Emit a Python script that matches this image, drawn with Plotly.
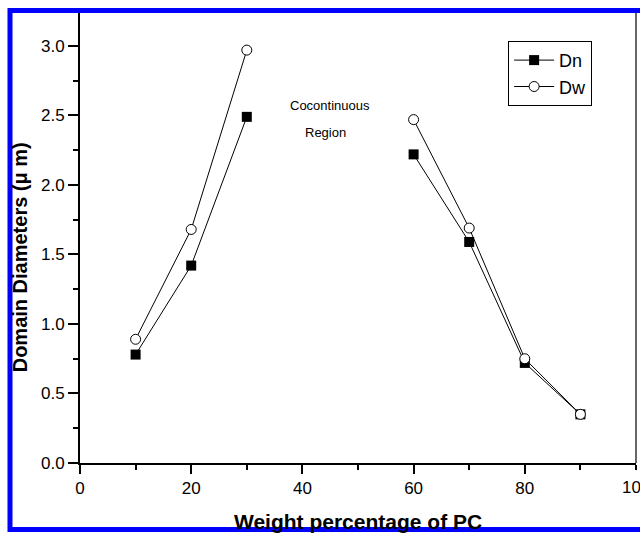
import plotly.graph_objects as go

# Weight percentage of PC; None splits the two branches around the cocontinuous region
pc_wt = [10, 20, 30, None, 60, 70, 80, 90]
dn = [0.78, 1.42, 2.49, None, 2.22, 1.59, 0.72, 0.35]
dw = [0.89, 1.68, 2.97, None, 2.47, 1.69, 0.75, 0.35]

x_ticks = [0, 20, 40, 60, 80, 100]
y_ticks = [0.0, 0.5, 1.0, 1.5, 2.0, 2.5, 3.0]

FONT = "Liberation Sans, Arial, sans-serif"

fig = go.Figure()
fig.add_trace(go.Scatter(
    x=pc_wt, y=dn, name="Dn", mode="lines+markers",
    line=dict(color="black", width=1),
    marker=dict(symbol="square", size=10, color="black"),
    connectgaps=False,
))
fig.add_trace(go.Scatter(
    x=pc_wt, y=dw, name="Dw", mode="lines+markers",
    line=dict(color="black", width=1),
    marker=dict(symbol="circle", size=10, color="white",
                line=dict(color="black", width=1)),
    connectgaps=False,
))

axis_common = dict(
    showgrid=False, zeroline=False, showline=True, linecolor="black",
    linewidth=2, ticks="outside", tickcolor="black", tickwidth=2,
    mirror=False, tickfont=dict(family=FONT, size=17, color="black"),
)

fig.update_xaxes(
    range=[0, 100], tickvals=x_ticks[:-1], ticklen=9,
    minor=dict(dtick=10, ticklen=5, tickwidth=2, tickcolor="black", ticks="outside"),
    **axis_common,
)
fig.update_yaxes(
    range=[0, 3.237], tickvals=y_ticks, ticktext=[f"{v:.1f}" for v in y_ticks],
    ticklen=10,
    minor=dict(dtick=0.25, ticklen=5, tickwidth=2, tickcolor="black", ticks="outside"),
    **axis_common,
)

annotations = [
    dict(text="Cocontinuous", x=45, y=2.575, xref="x", yref="y", showarrow=False,
         font=dict(family=FONT, size=13, color="black")),
    dict(text="Region", x=44.2, y=2.374, xref="x", yref="y", showarrow=False,
         font=dict(family=FONT, size=13, color="black")),
    # last x tick label sits on the page edge
    dict(text=str(x_ticks[-1]), x=x_ticks[-1], y=-0.0555, xref="x", yref="paper",
         showarrow=False, xanchor="center", yanchor="middle",
         font=dict(family=FONT, size=17, color="black")),
    dict(text="<b>Weight percentage of PC</b>", x=0.5, y=-0.13, xref="paper", yref="paper",
         showarrow=False, xanchor="center", yanchor="middle",
         font=dict(family=FONT, size=21, color="black")),
    dict(text="<b>Domain Diameters (\u03bc m)</b>", x=-0.108, y=0.457, xref="paper", yref="paper",
         showarrow=False, textangle=-90, xanchor="center", yanchor="middle",
         font=dict(family=FONT, size=20, color="black")),
]

shapes = [
    # right edge of the plot frame
    dict(type="line", xref="paper", yref="paper", x0=1, x1=1, y0=0, y1=1,
         line=dict(color="#333333", width=1.5)),
    # blue frame around the figure
    dict(type="rect", xref="paper", yref="paper",
         x0=-0.1259, x1=1.2, y0=-0.1475, y1=1.0055,
         line=dict(color="#0000ff", width=5), layer="above"),
]

fig.update_layout(
    width=640, height=533,
    margin=dict(l=80, r=4, t=13, b=70),
    paper_bgcolor="white", plot_bgcolor="white",
    font=dict(family=FONT, color="black"),
    annotations=annotations, shapes=shapes,
    legend=dict(x=0.77, y=0.938, xanchor="left", yanchor="top",
                bordercolor="black", borderwidth=1, bgcolor="white",
                font=dict(family=FONT, size=18, color="black"),
                itemwidth=40, tracegroupgap=0),
    showlegend=True,
)

fig.write_html("out.html")
